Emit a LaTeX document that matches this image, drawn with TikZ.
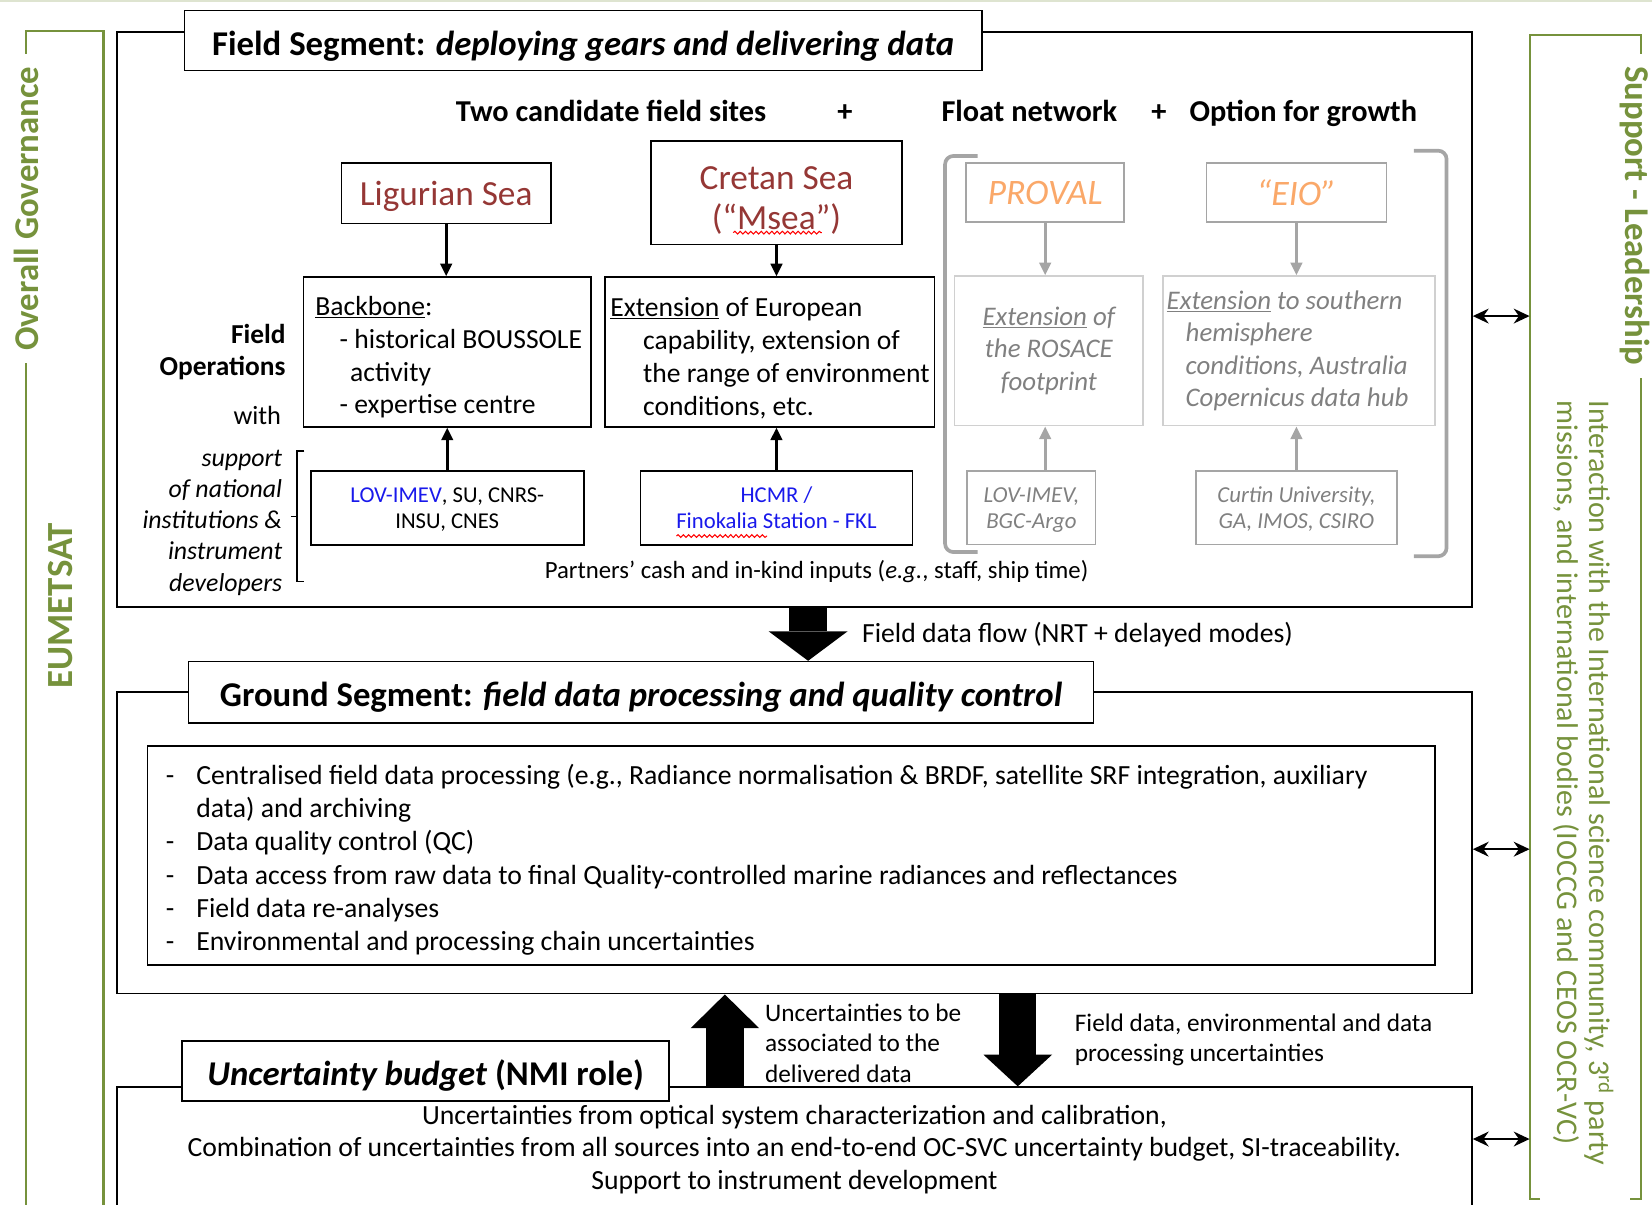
\documentclass[tikz,border=0pt]{standalone}
\usepackage{fontspec}
\setmainfont{Carlito}
\usepackage{tikz}
\usetikzlibrary{positioning,arrows.meta,decorations.pathmorphing}

\definecolor{govgreen}{RGB}{118,146,60}
\definecolor{sitered}{RGB}{149,55,53}
\definecolor{optorange}{RGB}{250,168,105}
\definecolor{optgrey}{RGB}{128,128,128}
\definecolor{boxgrey}{RGB}{165,165,165}
\definecolor{lightgrey}{RGB}{208,208,208}
\definecolor{instblue}{RGB}{25,25,235}
\definecolor{topline}{RGB}{222,228,208}

\newcommand{\fs}[2]{\fontsize{#1}{#2}\selectfont}
\newcommand{\dashitem}{\makebox[29pt][l]{-}}

\tikzset{
  frame/.style={draw, line width=1.8pt, inner sep=0pt},
  segtitle/.style={draw, fill=white, line width=1.6pt, inner sep=0pt, text height=28pt, text depth=0pt, font=\fs{33}{38}\bfseries},
  sitebox/.style={draw, line width=1.6pt, inner sep=0pt, align=center, text depth=0pt, text=sitered, font=\fs{33.5}{38}},
  opbox/.style={draw, line width=1.6pt, inner sep=0pt},
  optext/.style={inner sep=0pt, align=left, font=\fs{26.2}{31.3}},
  instbox/.style={draw, line width=1.6pt, inner sep=0pt, align=center, text depth=-3pt, font=\fs{21.5}{25}},
  optbox/.style={draw=boxgrey, line width=1.6pt, inner sep=0pt, align=center, text depth=-2pt, text=optorange, font=\fs{34}{38}\itshape},
  extbox/.style={draw=lightgrey, line width=1.6pt, inner sep=0pt, align=center, text=optgrey, font=\fs{25.5}{31}\itshape},
  partbox/.style={draw=boxgrey, line width=1.4pt, inner sep=0pt, align=center, text depth=-3pt, text=optgrey, font=\fs{21.7}{25}\itshape},
  head/.style={inner sep=0pt, anchor=base, font=\fs{28.8}{34}\bfseries},
  note/.style={inner sep=0pt, align=left},
  arr/.style={line width=2.6pt, -{Triangle[length=12pt 0 1, width=11pt 0 1]}},
  greyarr/.style={arr, draw=boxgrey},
  biarr/.style={line width=2.4pt, {Stealth[length=15pt 0 1, width=14pt 0 1]}-{Stealth[length=15pt 0 1, width=14pt 0 1]}},
  blockarr/.style n args={3}{line width=#1pt, -{Triangle[length=#2pt 0 1, width=#3pt 0 1, line width=0pt 0 0]}},
  govline/.style={draw=govgreen, line width=2pt},
  govtitle/.style={fill=white, text=govgreen, inner ysep=1pt, inner xsep=12pt, font=\fs{33}{40}\bfseries},
  bracket/.style={draw=boxgrey, line width=3.5pt, rounded corners=8pt},
  spellmark/.style={draw=red, line width=1pt, decorate, decoration={snake, amplitude=1.3pt, segment length=5pt}},
}

\begin{document}
\begin{tikzpicture}[x=1pt, y=-1pt, node distance=16pt]
\useasboundingbox (0,0) rectangle (1568,1143);
\draw[topline, line width=2pt] (0,1) -- (1568,1);

% governance side frames
\node[inner sep=0pt, minimum width=73, minimum height=1130] (gov) at (61.5,595) {};
\draw[govline] (gov.south west) -- (gov.north west) -- (gov.north east) -- (gov.south east);
\node[govtitle, rotate=90] (govtxt) at (25,198) {Overall Governance};
\node[text=govgreen, rotate=90, inner sep=0pt, font=\fs{35}{40}\bfseries] (eumetsat) at (57,575) {EUMETSAT};

\node[inner sep=0pt, minimum width=105, minimum height=1105] (support) at (1504.5,585.5) {};
\draw[govline] ([xshift=10]support.south west) -- (support.south west) -- (support.north west)
  -- (support.north east) -- (support.south east) -- ([xshift=-10]support.south east);
\node[govtitle, rotate=-90] (lead) at (1552,205) {Support - Leadership};
\node[rotate=-90, anchor=west, align=left, inner sep=0pt, text=govgreen, font=\fs{28.5}{30}] (interaction) at (1503,380)
  {Interaction with the International science community, 3\textsuperscript{rd} party\\missions, and international bodies (IOCCG and CEOS OCR-VC)};

% field segment
\node[frame, minimum width=1286, minimum height=546] (field) at (754,303) {};
\node[segtitle, minimum width=757, minimum height=57] (ftitle) at (553.5,38.5) {Field Segment: \textit{deploying gears and delivering data}};

\node[head] (sites) at (580,115) {Two candidate field sites};
\node[head] (plusa) at (802,115) {+};
\node[head] (floatnet) at (977,115) {Float network};
\node[head] (plusb) at (1100,115) {+};
\node[head] (growth) at (1237,115) {Option for growth};

\node[sitebox, minimum width=199, minimum height=57] (ligurian) at (423.5,183.5) {Ligurian Sea};
\node[sitebox, text height=70pt, minimum width=238, minimum height=98] (cretan) at (737,183) {Cretan Sea\\(“Msea”)};

\node[opbox, minimum width=273, minimum height=142] (backbone) at (424.5,334) {};
\node[optext, anchor=west, yshift=-5] (backbonetxt) at ([xshift=12]backbone.west)
  {\underline{Backbone}:\\\hspace*{23pt}- historical BOUSSOLE\\\hspace*{33pt}activity\\\hspace*{23pt}- expertise centre};
\node[opbox, minimum width=313, minimum height=142] (extension) at (730.5,334) {};
\node[optext, anchor=west, yshift=-6] (extensiontxt) at ([xshift=6]extension.west)
  {\underline{Extension} of European\\\hspace*{31pt}capability, extension of\\\hspace*{31pt}the range of environment\\\hspace*{31pt}conditions, etc.};

\node[instbox, minimum width=259, minimum height=70] (lovinst) at (424.5,482) {{\color{instblue}LOV-IMEV}, SU, CNRS-\\INSU, CNES};
\node[instbox, text=instblue, minimum width=258, minimum height=70] (hcmr) at (737,482) {HCMR /\\Finokalia Station - FKL};

\draw[arr] (ligurian.south) -- (ligurian.south |- backbone.north);
\draw[arr] (cretan.south) -- (cretan.south |- extension.north);
\draw[arr] (lovinst.north) -- (lovinst.north |- backbone.south);
\draw[arr] (hcmr.north) -- (hcmr.north |- extension.south);

\draw[spellmark] ([xshift=-41,yshift=12]cretan.south) -- ++(84,0);
\draw[spellmark] ([xshift=-95,yshift=9]hcmr.south) -- ++(86,0);

\node[inner sep=0pt, align=right, font=\fs{26}{31}\bfseries, left=16pt of backbone] (fieldops) {Field\\Operations};
\node[inner sep=0pt, anchor=base east, font=\fs{25}{30}] (with) at (267,403) {with};
\node[inner sep=0pt, anchor=east, align=right, font=\fs{24.5}{29.7}\itshape] (supporters) at (268,496)
  {support\\of national\\institutions \&\\instrument\\developers};
\draw[line width=1.4pt] (289,428) -- (282,428) -- (282,552) -- (289,552) (282,490) -- (276,490);

% options for growth
\draw[bracket] (928,148) -- (897,148) -- (897,524) -- (928,524);
\draw[bracket] (1342,143) -- (1373,143) -- (1373,528) -- (1342,528);
\node[optbox, minimum width=150, minimum height=56] (proval) at (992,183) {PROVAL};
\node[optbox, minimum width=171, minimum height=56] (eio) at (1230.5,183) {“EIO”};
\node[extbox, minimum width=179, minimum height=142] (rosace) at (995.5,333) {\underline{Extension} of\\the ROSACE\\footprint};
\node[extbox, minimum width=258, minimum height=142] (southext) at (1233,333) {};
\node[optext, text=optgrey, font=\fs{25.5}{30.5}\itshape, anchor=west] (southtxt) at ([xshift=4]southext.west)
  {\underline{Extension} to southern\\\hspace*{18pt}hemisphere\\\hspace*{18pt}conditions, Australia\\\hspace*{18pt}Copernicus data hub};
\node[partbox, minimum width=122, minimum height=70] (argo) at (979,482) {LOV-IMEV,\\BGC-Argo};
\node[partbox, minimum width=191, minimum height=70] (curtin) at (1230.5,482) {Curtin University,\\GA, IMOS, CSIRO};

\draw[greyarr] (proval.south) -- (proval.south |- rosace.north);
\draw[greyarr] (eio.south) -- (eio.south |- southext.north);
\draw[greyarr] (argo.north -| proval.south) -- (proval.south |- rosace.south);
\draw[greyarr] (curtin.north) -- (curtin.north |- southext.south);

\node[inner sep=0pt, anchor=base, font=\fs{23.5}{27}] (partners) at (775,549) {Partners’ cash and in-kind inputs (\textit{e.g.}, staff, ship time)};

% ground segment
\node[frame, minimum width=1286, minimum height=286] (ground) at (754,800) {};
\node[segtitle, minimum width=859, minimum height=58] (gtitle) at (608.5,657) {Ground Segment: \textit{field data processing and quality control}};
\node[opbox, minimum width=1222, minimum height=208] (glist) at (751,812) {};
\node[note, font=\fs{26.3}{31.4}, anchor=west, yshift=-4] (glisttxt) at ([xshift=18]glist.west)
  {\dashitem Centralised field data processing (e.g., Radiance normalisation \& BRDF, satellite SRF integration, auxiliary\\
   \hspace*{29pt}data) and archiving\\
   \dashitem Data quality control (QC)\\
   \dashitem Data access from raw data to final Quality-controlled marine radiances and reflectances\\
   \dashitem Field data re-analyses\\
   \dashitem Environmental and processing chain uncertainties};

\coordinate (flowtop) at ([xshift=13]field.south);
\draw[blockarr={36}{28}{75}] (flowtop) -- (flowtop |- gtitle.north);
\node[inner sep=0pt, anchor=base west, font=\fs{26.3}{30}] (flowlbl) at (818,610) {Field data flow (NRT + delayed modes)};

% uncertainty budget
\node[frame, minimum width=1286, minimum height=160] (budget) at (754,1112) {};
\node[segtitle, minimum width=462, minimum height=57] (btitle) at (404,1016.5) {\textit{Uncertainty budget} (NMI role)};
\node[inner sep=0pt, align=center, font=\fs{26.3}{31}] (budgettxt) at (754,1091)
  {Uncertainties from optical system characterization and calibration,\\
   Combination of uncertainties from all sources into an end-to-end OC-SVC uncertainty budget, SI-traceability.\\
   Support to instrument development};

\coordinate (uncfoot) at ([xshift=-66]budget.north);
\draw[blockarr={36}{32}{65}] (uncfoot) -- (uncfoot |- ground.south);
\coordinate (datatop) at ([xshift=212]ground.south);
\draw[blockarr={35}{30}{65}] (datatop) -- (datatop |- budget.north);
\node[note, font=\fs{24}{29}, anchor=west] (unclbl) at (726,990) {Uncertainties to be\\associated to the\\delivered data};
\node[note, font=\fs{24}{29}, anchor=west] (fielddatalbl) at (1020,987) {Field data, environmental and data\\processing uncertainties};

% links to the support frame
\coordinate (ffoot) at ([yshift=3]field.east);
\coordinate (gfoot) at ([yshift=-6]ground.east);
\coordinate (bfoot) at ([yshift=-50]budget.north east);
\draw[biarr] (ffoot) -- (ffoot -| support.west);
\draw[biarr] (gfoot) -- (gfoot -| support.west);
\draw[biarr] (bfoot) -- (bfoot -| support.west);
\end{tikzpicture}
\end{document}
